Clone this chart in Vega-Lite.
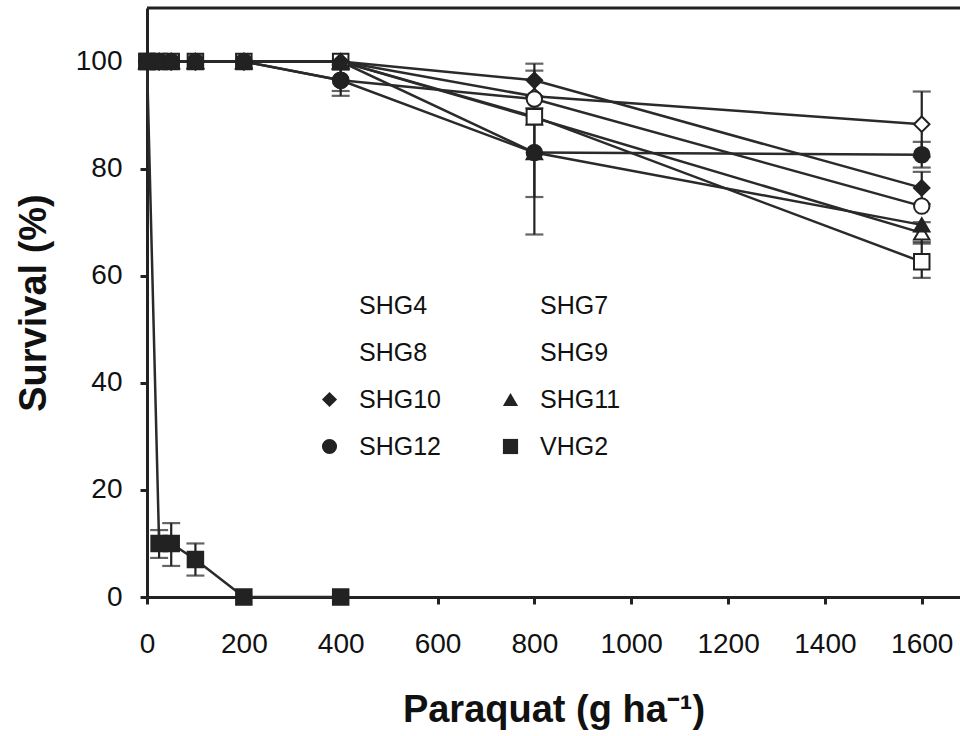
{
  "$schema": "https://vega.github.io/schema/vega-lite/v6.json",
  "width": 813,
  "height": 589,
  "autosize": {"type": "none"},
  "padding": {"left": 147, "top": 8, "right": 0, "bottom": 139},
  "background": "white",
  "datasets": {
    "survival": [
      {"series": "SHG4", "dose": 0, "survival": 100},
      {"series": "SHG4", "dose": 25, "survival": 100},
      {"series": "SHG4", "dose": 50, "survival": 100},
      {"series": "SHG4", "dose": 100, "survival": 100},
      {"series": "SHG4", "dose": 200, "survival": 100},
      {"series": "SHG4", "dose": 400, "survival": 100},
      {"series": "SHG4", "dose": 800, "survival": 93.5},
      {"series": "SHG4", "dose": 1600, "survival": 88.3},
      {"series": "SHG7", "dose": 0, "survival": 100},
      {"series": "SHG7", "dose": 25, "survival": 100},
      {"series": "SHG7", "dose": 50, "survival": 100},
      {"series": "SHG7", "dose": 100, "survival": 100},
      {"series": "SHG7", "dose": 200, "survival": 100},
      {"series": "SHG7", "dose": 400, "survival": 100},
      {"series": "SHG7", "dose": 800, "survival": 89.5},
      {"series": "SHG7", "dose": 1600, "survival": 68},
      {"series": "SHG8", "dose": 0, "survival": 100},
      {"series": "SHG8", "dose": 25, "survival": 100},
      {"series": "SHG8", "dose": 50, "survival": 100},
      {"series": "SHG8", "dose": 100, "survival": 100},
      {"series": "SHG8", "dose": 200, "survival": 100},
      {"series": "SHG8", "dose": 400, "survival": 96.5},
      {"series": "SHG8", "dose": 800, "survival": 93},
      {"series": "SHG8", "dose": 1600, "survival": 73},
      {"series": "SHG9", "dose": 0, "survival": 100},
      {"series": "SHG9", "dose": 25, "survival": 100},
      {"series": "SHG9", "dose": 50, "survival": 100},
      {"series": "SHG9", "dose": 100, "survival": 100},
      {"series": "SHG9", "dose": 200, "survival": 100},
      {"series": "SHG9", "dose": 400, "survival": 100},
      {"series": "SHG9", "dose": 800, "survival": 89.7},
      {"series": "SHG9", "dose": 1600, "survival": 62.6},
      {"series": "SHG10", "dose": 0, "survival": 100},
      {"series": "SHG10", "dose": 25, "survival": 100},
      {"series": "SHG10", "dose": 50, "survival": 100},
      {"series": "SHG10", "dose": 100, "survival": 100},
      {"series": "SHG10", "dose": 200, "survival": 100},
      {"series": "SHG10", "dose": 400, "survival": 100},
      {"series": "SHG10", "dose": 800, "survival": 96.5},
      {"series": "SHG10", "dose": 1600, "survival": 76.4},
      {"series": "SHG11", "dose": 0, "survival": 100},
      {"series": "SHG11", "dose": 25, "survival": 100},
      {"series": "SHG11", "dose": 50, "survival": 100},
      {"series": "SHG11", "dose": 100, "survival": 100},
      {"series": "SHG11", "dose": 200, "survival": 100},
      {"series": "SHG11", "dose": 400, "survival": 100},
      {"series": "SHG11", "dose": 800, "survival": 83},
      {"series": "SHG11", "dose": 1600, "survival": 69.5},
      {"series": "SHG12", "dose": 0, "survival": 100},
      {"series": "SHG12", "dose": 25, "survival": 100},
      {"series": "SHG12", "dose": 50, "survival": 100},
      {"series": "SHG12", "dose": 100, "survival": 100},
      {"series": "SHG12", "dose": 200, "survival": 100},
      {"series": "SHG12", "dose": 400, "survival": 96.5},
      {"series": "SHG12", "dose": 800, "survival": 83},
      {"series": "SHG12", "dose": 1600, "survival": 82.6},
      {"series": "VHG2", "dose": 0, "survival": 100},
      {"series": "VHG2", "dose": 25, "survival": 10},
      {"series": "VHG2", "dose": 50, "survival": 10},
      {"series": "VHG2", "dose": 100, "survival": 7},
      {"series": "VHG2", "dose": 200, "survival": 0},
      {"series": "VHG2", "dose": 400, "survival": 0}
    ],
    "spread": [
      {"series": "SHG8", "dose": 400, "lo": 93.6, "hi": 99.4},
      {"series": "SHG12", "dose": 400, "lo": 94.5, "hi": 98.5},
      {"series": "SHG10", "dose": 800, "lo": 93.4, "hi": 99.6},
      {"series": "SHG11", "dose": 800, "lo": 67.7, "hi": 98.3},
      {"series": "SHG12", "dose": 800, "lo": 74.7, "hi": 91.3},
      {"series": "SHG4", "dose": 1600, "lo": 82.2, "hi": 94.4},
      {"series": "SHG12", "dose": 1600, "lo": 80.2, "hi": 85},
      {"series": "SHG10", "dose": 1600, "lo": 73.4, "hi": 79.4},
      {"series": "SHG7", "dose": 1600, "lo": 66, "hi": 70},
      {"series": "SHG9", "dose": 1600, "lo": 59.6, "hi": 66.3},
      {"series": "VHG2", "dose": 25, "lo": 7.3, "hi": 12.5},
      {"series": "VHG2", "dose": 50, "lo": 5.8, "hi": 13.8},
      {"series": "VHG2", "dose": 100, "lo": 4, "hi": 10}
    ]
  },
  "config": {
    "view": {"stroke": null},
    "font": "Liberation Sans",
    "axis": {
      "grid": false,
      "domainColor": "#222",
      "domainWidth": 3,
      "tickColor": "#222",
      "tickWidth": 3,
      "tickSize": 7,
      "labelFont": "Liberation Sans",
      "labelFontSize": 28,
      "labelColor": "#111",
      "labelFlush": false,
      "labelOverlap": false,
      "titleFont": "Liberation Sans",
      "titleFontSize": 38,
      "titleFontWeight": "bold",
      "titleColor": "#111"
    },
    "axisX": {"labelPadding": 26, "titlePadding": 33},
    "axisY": {"labelPadding": 18, "titlePadding": 22},
    "legend": {
      "orient": "none",
      "direction": "horizontal",
      "legendX": 170,
      "legendY": 285,
      "columns": 2,
      "columnPadding": 57,
      "rowPadding": 21,
      "symbolSize": 230,
      "symbolStrokeWidth": 2,
      "symbolStrokeColor": "#222",
      "labelOffset": 17,
      "labelFont": "Liberation Sans",
      "labelFontSize": 25,
      "labelColor": "#111"
    }
  },
  "layer": [
    {
      "data": {"values": [{}]},
      "mark": {"type": "rule", "color": "#222", "strokeWidth": 3},
      "encoding": {
        "y": {"datum": 110, "type": "quantitative", "scale": {"domain": [0, 110], "nice": false}}
      }
    },
    {
      "data": {"name": "spread"},
      "mark": {"type": "errorbar", "ticks": true, "size": 18, "thickness": 2.2, "color": "#222"},
      "encoding": {
        "x": {"field": "dose", "type": "quantitative", "title": "Paraquat (g ha⁻¹)", "scale": {"domain": [0, 1679], "nice": false}, "axis": {"values": [0, 200, 400, 600, 800, 1000, 1200, 1400, 1600], "format": "d"}},
        "y": {"field": "lo", "type": "quantitative", "title": "Survival (%)", "scale": {"domain": [0, 110], "nice": false}, "axis": {"values": [0, 20, 40, 60, 80, 100], "format": "d"}},
        "y2": {"field": "hi"}
      }
    },
    {
      "data": {"name": "survival"},
      "mark": {"type": "line", "color": "#2a2a2a", "strokeWidth": 2.5},
      "encoding": {
        "x": {"field": "dose", "type": "quantitative", "title": "Paraquat (g ha⁻¹)", "scale": {"domain": [0, 1679], "nice": false}, "axis": {"values": [0, 200, 400, 600, 800, 1000, 1200, 1400, 1600], "format": "d"}},
        "y": {"field": "survival", "type": "quantitative", "title": "Survival (%)", "scale": {"domain": [0, 110], "nice": false}, "axis": {"values": [0, 20, 40, 60, 80, 100], "format": "d"}},
        "detail": {"field": "series"}
      }
    },
    {
      "data": {"name": "survival"},
      "mark": {"type": "point", "filled": true, "stroke": "#222", "strokeWidth": 2, "size": 240, "opacity": 1},
      "encoding": {
        "x": {"field": "dose", "type": "quantitative", "title": "Paraquat (g ha⁻¹)", "scale": {"domain": [0, 1679], "nice": false}, "axis": {"values": [0, 200, 400, 600, 800, 1000, 1200, 1400, 1600], "format": "d"}},
        "y": {"field": "survival", "type": "quantitative", "title": "Survival (%)", "scale": {"domain": [0, 110], "nice": false}, "axis": {"values": [0, 20, 40, 60, 80, 100], "format": "d"}},
        "shape": {
          "field": "series",
          "type": "nominal",
          "scale": {
            "domain": ["SHG4", "SHG7", "SHG8", "SHG9", "SHG10", "SHG11", "SHG12", "VHG2"],
            "range": ["diamond", "triangle-up", "circle", "square", "diamond", "triangle-up", "circle", "square"]
          },
          "legend": {"title": null}
        },
        "fill": {
          "field": "series",
          "type": "nominal",
          "scale": {
            "domain": ["SHG4", "SHG7", "SHG8", "SHG9", "SHG10", "SHG11", "SHG12", "VHG2"],
            "range": ["white", "white", "white", "white", "#222", "#222", "#222", "#222"]
          },
          "legend": {"title": null}
        }
      }
    }
  ]
}
